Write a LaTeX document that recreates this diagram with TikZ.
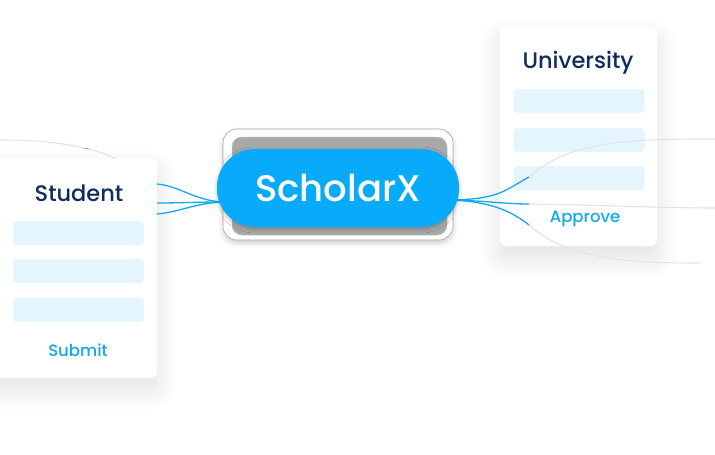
\documentclass[tikz,border=0pt]{standalone}
\usepackage{fontspec}
\setmainfont{Poppins Medium}
\usetikzlibrary{shadows.blur}
\definecolor{sxblue}{RGB}{8,170,252}
\definecolor{navy}{RGB}{16,44,94}
\definecolor{barblue}{RGB}{229,245,254}
\definecolor{linkblue}{RGB}{18,168,240}
\definecolor{coregray}{RGB}{168,168,168}
\begin{document}
\begin{tikzpicture}[x=1pt,y=-1pt,
  card/.style={fill=white, rounded corners=6pt, inner sep=0pt,
    blur shadow={shadow xshift=0pt, shadow yshift=-12pt, shadow blur radius=22pt,
      shadow opacity=12, shadow blur steps=16}},
  bar/.style={fill=barblue, rounded corners=4pt, inner sep=0pt, minimum width=131pt, minimum height=24pt},
  title/.style={text=navy, font=\fontsize{22.5}{24}\selectfont},
  action/.style={text=linkblue, font=\fontsize{16.5}{18}\selectfont},
  link/.style={linkblue, line width=1.3pt},
  trail/.style={black!11, line width=1.1pt},
]
\useasboundingbox (0,0) rectangle (715,455);

% faint background trails
\coordinate (lt0) at (0,140);
\coordinate (lt1) at (116,159);
\draw[trail] (lt0) .. controls (50,140) and (90,146) .. (lt1);

% cards
\node[card, minimum width=162pt, minimum height=219pt] (student) at (76,268) {};
\node[card, minimum width=157pt, minimum height=219pt] (univ) at (578.5,136.5) {};

% student contents
\node[title] (stitle) at (79,193) {Student};
\node[bar] (sb1) at (78.5,233) {};
\node[bar] (sb2) at (78.5,271) {};
\node[bar] (sb3) at (78.5,310) {};
\node[action] (submit) at (78,350) {Submit};

% university contents
\node[title] (utitle) at (578,63) {University};
\node[bar] (ub1) at (579,101) {};
\node[bar] (ub2) at (579,140) {};
\node[bar] (ub3) at (579,178) {};
\node[action] (approve) at (585,219) {Approve};

% right trails continuing past the links
\coordinate (r1) at (529,177);
\coordinate (r2) at (529,204);
\coordinate (r3) at (529,225);
\coordinate (r1e) at (715,139);
\coordinate (r2e) at (715,208);
\coordinate (r3e) at (700,263);
\draw[trail] (r1) .. controls (570,140) and (630,139) .. (r1e);
\draw[trail] (r2) .. controls (600,205) and (660,208) .. (r2e);
\draw[trail] (r3) .. controls (570,262) and (640,263) .. (r3e);

% left links
\coordinate (lc) at (224,202);
\coordinate (l1) at (157,184);
\coordinate (l2) at (157,203);
\coordinate (l3) at (157,214);
\draw[link] (lc) .. controls (195,201) and (180,186) .. (l1);
\draw[link] (lc) .. controls (195,202) and (180,203) .. (l2);
\draw[link] (lc) .. controls (195,203) and (180,212) .. (l3);

% right links
\coordinate (rc) at (452,200);
\draw[link] (rc) .. controls (500,199) and (505,190) .. (r1);
\draw[link] (rc) .. controls (490,201) and (505,204) .. (r2);
\draw[link] (rc) .. controls (490,202) and (510,210) .. (r3);

% central node
\node[fill=white, draw=black!35, line width=0.6pt, rounded corners=14pt,
  minimum width=230pt, minimum height=111pt,
  blur shadow={shadow xshift=0pt, shadow yshift=-3pt, shadow blur radius=5pt, shadow opacity=20}] (frame) at (338,184.5) {};
\node[fill=coregray, draw=black!25, line width=0.5pt, rounded corners=10pt,
  minimum width=215pt, minimum height=98pt] (core) at (339.5,186) {};
\node[fill=sxblue, rounded corners=38pt, minimum width=242pt, minimum height=78pt,
  text=white, font=\fontsize{37}{40}\selectfont,
  blur shadow={shadow xshift=0pt, shadow yshift=-2pt, shadow blur radius=4pt, shadow opacity=25}] (scholar) at (338,188) {ScholarX};
\end{tikzpicture}
\end{document}
